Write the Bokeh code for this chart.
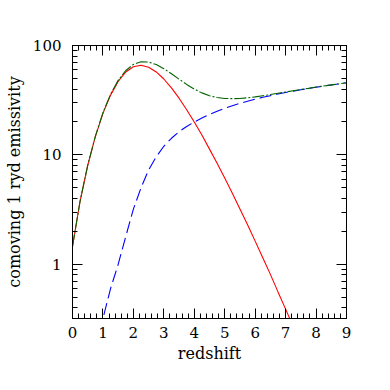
from bokeh.plotting import figure
from bokeh.models import Range1d, FixedTicker, LinearAxis, LogAxis, NumeralTickFormatter
from bokeh.embed import file_html
from bokeh.resources import INLINE

# redshift grids
z_red = [0.0, 0.25, 0.5, 0.75, 1.0, 1.25, 1.5, 1.75, 2.0, 2.25, 2.5, 2.75, 3.0, 3.25,
         3.5, 3.75, 4.0, 4.25, 4.5, 4.75, 5.0, 5.25, 5.5, 5.75, 6.0, 6.25, 6.5, 6.75,
         7.0, 7.25, 7.5]
red = [1.46, 3.79, 8.04, 14.7, 24.0, 35.2, 47.0, 57.3, 64.0, 65.9, 63.3, 57.3, 49.4, 41.0,
       33.0, 25.9, 20.0, 15.2, 11.3, 8.39, 6.14, 4.46, 3.21, 2.30, 1.63, 1.15, 0.81, 0.56,
       0.39, 0.27, 0.19]

z_blue = [0.75, 1.0, 1.25, 1.5, 1.75, 2.0, 2.25, 2.5, 2.75, 3.0, 3.25, 3.5, 3.75, 4.0,
          4.25, 4.5, 4.75, 5.0, 5.25, 5.5, 5.75, 6.0, 6.25, 6.5, 6.75, 7.0, 7.25, 7.5,
          7.75, 8.0, 8.25, 8.5, 8.75, 9.0]
blue = [0.12, 0.32, 0.60, 1.0, 1.8, 3.2, 5.0, 7.3, 9.6, 12.0, 14.2, 16.3, 18.2, 20.0,
        21.7, 23.4, 25.1, 26.7, 28.2, 29.6, 31.0, 32.3, 33.6, 34.8, 36.0, 37.2, 38.3, 39.4,
        40.5, 41.6, 42.6, 43.6, 44.6, 45.7]

z_green = [0.0, 0.25, 0.5, 0.75, 1.0, 1.25, 1.5, 1.75, 2.0, 2.25, 2.5, 2.75, 3.0, 3.25,
           3.5, 3.75, 4.0, 4.25, 4.5, 4.75, 5.0, 5.25, 5.5, 5.75, 6.0, 6.25, 6.5, 6.75,
           7.0, 7.25, 7.5, 7.75, 8.0, 8.25, 8.5, 8.75, 9.0]
green = [1.46, 3.79, 8.04, 14.8, 24.3, 35.8, 48.0, 59.1, 67.2, 70.9, 70.6, 66.9, 61.4, 55.2,
         49.3, 44.1, 40.0, 36.9, 34.7, 33.5, 32.8, 32.7, 32.8, 33.3, 33.9, 34.75, 35.6, 36.6,
         37.6, 38.6, 39.6, 40.6, 41.7, 42.7, 43.7, 44.6, 45.7]

x_major = [0, 1, 2, 3, 4, 5, 6, 7, 8, 9]
x_minor = [i * 0.2 for i in range(46)]
y_major = [1, 10, 100]
y_minor = [0.4, 0.5, 0.6, 0.7, 0.8, 0.9, 2, 3, 4, 5, 6, 7, 8, 9,
           20, 30, 40, 50, 60, 70, 80, 90]

FONT = "DejaVu Serif"

p = figure(frame_width=274, frame_height=273,
           min_border_left=72, min_border_right=42, min_border_top=45, min_border_bottom=70,
           x_range=Range1d(0, 9), y_range=Range1d(0.32, 100), y_axis_type="log",
           output_backend="svg", toolbar_location=None)
p.xgrid.visible = False
p.ygrid.visible = False
p.outline_line_color = "black"
p.background_fill_color = "white"
p.border_fill_color = "white"

bottom = p.below[0]
left = p.left[0]
top = LinearAxis()
right = LogAxis()
p.add_layout(top, "above")
p.add_layout(right, "right")

xaxes = [bottom, top]
yaxes = [left, right]
for ax in xaxes:
    ax.ticker = FixedTicker(ticks=x_major, minor_ticks=x_minor)
for ax in yaxes:
    ax.ticker = FixedTicker(ticks=y_major, minor_ticks=y_minor)
    ax.formatter = NumeralTickFormatter(format="0")

for ax in xaxes + yaxes:
    ax.major_tick_in = 10
    ax.major_tick_out = 0
    ax.minor_tick_in = 5
    ax.minor_tick_out = 0
    ax.axis_line_color = "black"
    ax.major_tick_line_color = "black"
    ax.minor_tick_line_color = "black"
    ax.major_label_text_font = FONT
    ax.major_label_text_font_size = "15px"
    ax.major_label_text_color = "black"
    ax.axis_label_text_font = FONT
    ax.axis_label_text_font_size = "16px"
    ax.axis_label_text_font_style = "normal"
    ax.axis_label_text_color = "black"

for ax in [top, right]:
    ax.major_label_text_color = None
    ax.major_label_text_font_size = "1px"

bottom.axis_label = "redshift"
bottom.major_label_standoff = 8
bottom.axis_label_standoff = 3
left.axis_label = "comoving 1 ryd emissivity"
left.major_label_standoff = 11
left.axis_label_standoff = 6

p.line(z_red, red, line_color="#ff0000", line_width=1.1)
p.line(z_blue, blue, line_color="#0000ff", line_width=1.1, line_dash="12 5")
p.line(z_green, green, line_color="#006400", line_width=1.1, line_dash="12 2 2 2")

open("out.html", "w").write(file_html(p, INLINE))
